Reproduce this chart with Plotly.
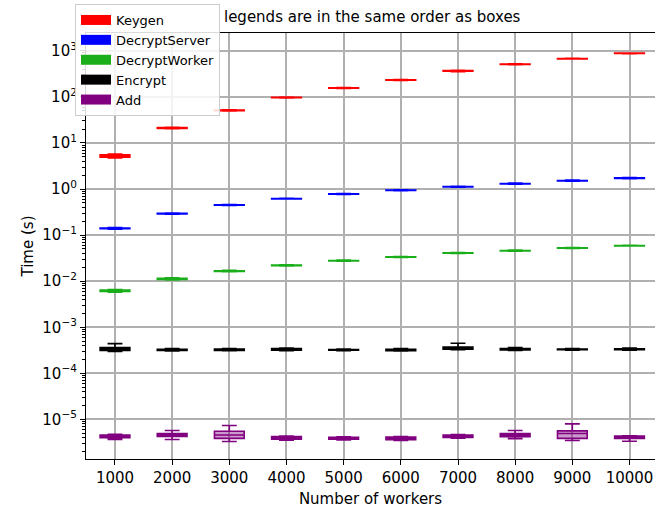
import plotly.graph_objects as go

workers = ["1000", "2000", "3000", "4000", "5000", "6000", "7000", "8000", "9000", "10000"]

series_names = ["Keygen", "DecryptServer", "DecryptWorker", "Encrypt", "Add"]
series_colors = ["#ff0000", "#0000ff", "#1aaf1a", "#000000", "#800080"]
series_fills = ["rgba(255,0,0,0.45)", "rgba(0,0,255,0.45)", "rgba(26,175,26,0.45)",
                "rgba(0,0,0,0.45)", "rgba(128,0,128,0.4)"]

# Keygen
keygen_lo = [4.7, 20.2, 49.5, 95, 151, 226, 352, 500, 660, 862]
keygen_q1 = [4.9, 20.5, 50.2, 96, 153, 229, 357, 505, 666, 869]
keygen_med = [5.2, 21.0, 51.0, 97, 155, 232, 363, 510, 672, 877]
keygen_q3 = [5.5, 21.5, 51.8, 98, 157, 235, 369, 516, 679, 885]
keygen_hi = [5.7, 21.8, 52.5, 99, 159, 238, 375, 522, 686, 893]

# DecryptServer
dserver_lo = [0.134, 0.285, 0.440, 0.605, 0.765, 0.920, 1.10, 1.27, 1.47, 1.67]
dserver_q1 = [0.137, 0.288, 0.445, 0.612, 0.772, 0.928, 1.11, 1.29, 1.49, 1.69]
dserver_med = [0.140, 0.292, 0.450, 0.617, 0.780, 0.935, 1.12, 1.30, 1.51, 1.71]
dserver_q3 = [0.143, 0.296, 0.455, 0.622, 0.788, 0.944, 1.13, 1.32, 1.53, 1.74]
dserver_hi = [0.146, 0.300, 0.462, 0.630, 0.795, 0.955, 1.15, 1.34, 1.56, 1.77]

# DecryptWorker
dworker_lo = [0.0058, 0.0106, 0.0160, 0.0215, 0.0272, 0.0328, 0.0398, 0.0448, 0.0515, 0.0578]
dworker_q1 = [0.0060, 0.0109, 0.0163, 0.0218, 0.0276, 0.0332, 0.0403, 0.0453, 0.0520, 0.0584]
dworker_med = [0.0062, 0.0112, 0.0166, 0.0221, 0.0279, 0.0335, 0.0409, 0.0459, 0.0525, 0.0590]
dworker_q3 = [0.0064, 0.0115, 0.0169, 0.0224, 0.0282, 0.0339, 0.0414, 0.0465, 0.0531, 0.0596]
dworker_hi = [0.0066, 0.0118, 0.0173, 0.0228, 0.0286, 0.0343, 0.0420, 0.0472, 0.0538, 0.0602]

# Encrypt
enc_lo = [3.00e-4, 3.08e-4, 3.10e-4, 3.12e-4, 3.12e-4, 3.05e-4, 3.25e-4, 3.15e-4, 3.20e-4, 3.20e-4]
enc_q1 = [3.15e-4, 3.15e-4, 3.15e-4, 3.20e-4, 3.18e-4, 3.12e-4, 3.35e-4, 3.22e-4, 3.25e-4, 3.25e-4]
enc_med = [3.40e-4, 3.23e-4, 3.25e-4, 3.30e-4, 3.23e-4, 3.23e-4, 3.52e-4, 3.30e-4, 3.30e-4, 3.32e-4]
enc_q3 = [3.62e-4, 3.35e-4, 3.38e-4, 3.45e-4, 3.30e-4, 3.35e-4, 3.75e-4, 3.45e-4, 3.38e-4, 3.42e-4]
enc_hi = [4.43e-4, 3.45e-4, 3.45e-4, 3.55e-4, 3.36e-4, 3.45e-4, 4.50e-4, 3.62e-4, 3.45e-4, 3.55e-4]

# Add
add_lo = [3.70e-6, 3.68e-6, 3.34e-6, 3.55e-6, 3.60e-6, 3.50e-6, 3.95e-6, 3.85e-6, 3.50e-6, 3.38e-6]
add_q1 = [4.05e-6, 4.30e-6, 3.90e-6, 3.75e-6, 3.75e-6, 3.65e-6, 4.10e-6, 4.25e-6, 3.90e-6, 3.90e-6]
add_med = [4.30e-6, 4.60e-6, 4.60e-6, 4.00e-6, 3.95e-6, 3.90e-6, 4.35e-6, 4.60e-6, 4.95e-6, 4.10e-6]
add_q3 = [4.60e-6, 4.95e-6, 5.55e-6, 4.25e-6, 4.12e-6, 4.15e-6, 4.60e-6, 4.95e-6, 5.65e-6, 4.40e-6]
add_hi = [4.80e-6, 5.77e-6, 7.40e-6, 4.40e-6, 4.20e-6, 4.27e-6, 4.73e-6, 5.77e-6, 8.05e-6, 4.45e-6]

stats = [
    (keygen_lo, keygen_q1, keygen_med, keygen_q3, keygen_hi),
    (dserver_lo, dserver_q1, dserver_med, dserver_q3, dserver_hi),
    (dworker_lo, dworker_q1, dworker_med, dworker_q3, dworker_hi),
    (enc_lo, enc_q1, enc_med, enc_q3, enc_hi),
    (add_lo, add_q1, add_med, add_q3, add_hi),
]

title_text = "legends are in the same order as boxes"
xlabel = "Number of workers"
ylabel = "Time (s)"
ytick_exps = [-5, -4, -3, -2, -1, 0, 1, 2, 3]
ytick_text = ["10<sup>\u22125</sup>", "10<sup>\u22124</sup>", "10<sup>\u22123</sup>",
              "10<sup>\u22122</sup>", "10<sup>\u22121</sup>", "10<sup>0</sup>",
              "10<sup>1</sup>", "10<sup>2</sup>", "10<sup>3</sup>"]

FONT = "DejaVu Sans"

fig = go.Figure()

for name, color, fill, (lo, q1, med, q3, hi) in zip(series_names, series_colors, series_fills, stats):
    fig.add_trace(go.Box(
        x=workers, q1=q1, median=med, q3=q3, lowerfence=lo, upperfence=hi,
        name=name, showlegend=False,
        line=dict(color=color, width=1.6),
        fillcolor=fill, width=0.52, whiskerwidth=0.5, boxpoints=False,
        hoverinfo="skip",
    ))

for name, color in zip(series_names, series_colors):
    fig.add_trace(go.Scatter(
        x=[None], y=[None], mode="lines", name=name,
        line=dict(color=color, width=10), showlegend=True,
    ))

minor_vals = [m * 10.0 ** p for p in range(-6, 4) for m in range(2, 10)]

fig.update_layout(
    width=655, height=512,
    margin=dict(l=86, r=0, t=33, b=53, autoexpand=False),
    paper_bgcolor="white", plot_bgcolor="white",
    boxmode="overlay",
    font=dict(family=FONT, size=15, color="black"),
    title=dict(text=title_text, x=0.503, xref="paper", xanchor="center",
               y=1 - 17 / 512, yref="container", yanchor="middle",
               font=dict(family=FONT, size=15, color="black")),
    legend=dict(
        x=(75 - 86) / 569, y=(459 - 4) / 426, xref="paper", yref="paper",
        xanchor="left", yanchor="top",
        bgcolor="rgba(255,255,255,0.85)", bordercolor="#cccccc", borderwidth=1,
        font=dict(family=FONT, size=13, color="black"),
        itemwidth=30, tracegroupgap=0,
    ),
    xaxis=dict(
        type="category", range=[-0.507, 9.446],
        showgrid=True, gridcolor="#b0b0b0", gridwidth=1.5,
        showline=True, linecolor="black", linewidth=1.2, mirror=True,
        ticks="outside", ticklen=5, tickcolor="black", tickwidth=1.2,
        tickangle=0,
        tickfont=dict(family=FONT, size=15, color="black"),
        title=dict(text=xlabel, standoff=7, font=dict(family=FONT, size=15, color="black")),
        zeroline=False,
    ),
    yaxis=dict(
        type="log", range=[-5.857, 3.384],
        tickvals=[10.0 ** e for e in ytick_exps], ticktext=ytick_text,
        showgrid=True, gridcolor="#b0b0b0", gridwidth=1.5,
        showline=True, linecolor="black", linewidth=1.2, mirror=False,
        ticks="outside", ticklen=5, tickcolor="black", tickwidth=1.2,
        tickfont=dict(family=FONT, size=15, color="black"),
        minor=dict(tickvals=minor_vals, ticks="outside", ticklen=2.5,
                   tickcolor="black", tickwidth=0.8, showgrid=False),
        title=dict(text=ylabel, standoff=5, font=dict(family=FONT, size=15, color="black")),
        zeroline=False,
    ),
)

fig.write_html("out.html",
               config={"displayModeBar": False},
               post_script="document.body.style.margin='0';document.body.style.overflow='hidden';")
